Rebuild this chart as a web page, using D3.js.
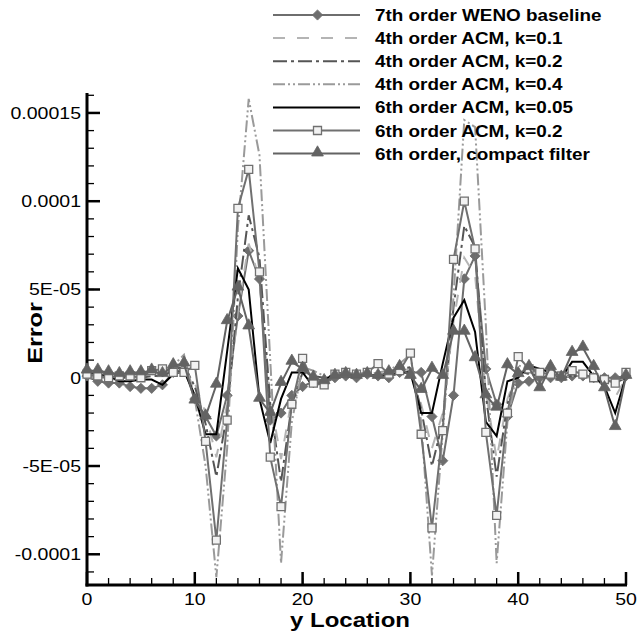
<!DOCTYPE html>
<html>
<head>
<meta charset="utf-8">
<script src="https://cdn.jsdelivr.net/npm/d3@7"></script>
<style>
body { margin: 0; background: #fff; }
text { font-family: "Liberation Sans", Arial, Helvetica, sans-serif; fill: #000; }
</style>
</head>
<body>
<svg id="chart" width="639" height="633"></svg>
<script>
// =====================
// DATA (error in 1E-05)
// =====================
var yLocation = [0, 1, 2, 3, 4, 5, 6, 7, 8, 9, 10, 11, 12, 13, 14, 15, 16, 17, 18, 19, 20,
    21, 22, 23, 24, 25, 26, 27, 28, 29, 30, 31, 32, 33, 34, 35, 36, 37, 38, 39, 40,
    41, 42, 43, 44, 45, 46, 47, 48, 49, 50];

var wenoBaseline = [0.1, -0.2, -0.3, -0.3, -0.5, -0.6, -0.6, -0.4, 0.3, 0.5,
    -1.2, -2.2, -3.3, -1.0, 3.5, 7.2, 5.6, -2.4, -2.0, -1.0,
    -0.5, -0.2, -0.3, 0.0, 0.1, 0.0, 0.2, 0.1, 0.0, 0.3,
    0.3, 0.3, -2.2, -4.7, -1.0, 5.6, 6.9, 0.5, -1.5, -2.2,
    -0.3, -0.2, 0.0, 0.0, 0.0, 0.1, 0.1, 0.0, 0.0, 0.0, 0.1];

var acm4k01 = [0.0, 0.0, 0.0, 0.1, 0.0, 0.0, 0.1, 0.2, 0.3, 0.6,
    -0.3, -2.0, -4.5, -1.5, 3.8, 7.6, 5.6, -1.2, -4.6, -1.2,
    0.3, 0.2, 0.0, 0.1, 0.1, 0.0, 0.1, 0.2, 0.2, 0.4,
    0.5, -1.5, -4.0, -2.0, 3.2, 6.8, 5.8, -0.8, -4.6, -1.2,
    0.4, 0.3, 0.2, 0.1, 0.0, 0.2, 0.1, 0.0, -0.3, -1.1, 0.0];

var acm4k02 = [0.0, -0.1, 0.0, 0.0, 0.0, 0.0, 0.1, 0.1, 0.4, 0.7,
    -0.5, -2.6, -5.6, -2.0, 4.6, 9.2, 6.8, -1.5, -5.9, -1.5,
    0.3, 0.1, 0.0, 0.0, 0.1, 0.0, 0.1, 0.1, 0.2, 0.5,
    0.6, -1.8, -5.0, -2.5, 4.0, 8.6, 7.4, -1.0, -5.6, -1.5,
    0.4, 0.2, 0.1, 0.0, 0.0, 0.1, 0.1, 0.0, -0.1, -0.3, 0.0];

var acm4k04 = [0.0, 0.0, 0.0, 0.0, 0.1, 0.1, 0.2, 0.3, 0.7, 1.3,
    -1.2, -5.0, -11.3, -4.0, 8.5, 15.8, 12.6, 1.0, -10.5, -2.5,
    0.6, 0.4, 0.1, 0.1, 0.1, 0.1, 0.2, 0.3, 0.4, 0.8,
    1.3, -2.5, -11.2, -3.1, 4.6, 14.6, 14.2, 3.0, -10.5, -2.5,
    0.7, 0.5, 0.2, 0.1, 0.0, 0.1, 0.1, 0.0, -0.1, -0.2, 0.0];

var acm6k005 = [0.3, 0.2, 0.1, -0.2, -0.2, -0.1, -0.1, -0.4, 0.2, 0.4,
    -1.0, -3.2, -3.2, 1.5, 6.2, 5.0, -1.2, -3.7, -1.2, 0.3,
    0.3, -0.5, -0.2, 0.3, 0.2, 0.1, 0.2, 0.1, 0.2, 0.3,
    0.3, -2.0, -2.0, 0.8, 3.4, 4.4, 2.6, -2.5, -3.3, -0.2,
    0.0, 0.7, 0.5, 0.3, 0.0, 0.9, 0.9, 0.1, -0.5, -2.0, 0.1];

var acm6k02 = [0.2, 0.1, 0.0, 0.1, 0.1, 0.0, 0.4, 0.5, 0.3, 0.3,
    0.7, -3.6, -9.2, -2.4, 9.6, 11.8, 6.0, -4.5, -7.3, -1.5,
    1.1, -0.3, -0.4, 0.2, 0.3, 0.2, 0.3, 0.8, 0.2, 0.4,
    1.4, -3.2, -8.5, -3.0, 6.7, 10.0, 7.3, -3.1, -7.8, -2.0,
    1.2, 0.5, 0.3, 0.2, 0.1, 0.4, 0.2, 0.0, -0.1, -0.3, 0.3];

var compactFilter = [0.4, 0.4, 0.3, 0.2, 0.3, 0.3, 0.4, 0.2, 0.7, 0.8,
    -1.3, -2.2, -0.4, 3.2, 5.1, 2.9, -1.2, -2.0, -0.3, 0.9,
    0.5, 0.0, -0.2, 0.1, 0.2, 0.1, 0.2, 0.1, 0.3, 0.6,
    0.1, -0.7, 0.5, 0.1, 2.6, 2.6, 1.1, -1.0, -1.7, 0.7,
    0.2, 0.6, -0.6, 0.6, 0.0, 1.4, 1.7, 0.6, -0.6, -2.8, 0.1];

var seriesNames = ["7th order WENO baseline", "4th order ACM, k=0.1", "4th order ACM, k=0.2",
    "4th order ACM, k=0.4", "6th order ACM, k=0.05", "6th order ACM, k=0.2", "6th order, compact filter"];

var xTickValues = [0, 10, 20, 30, 40, 50];
var xTickLabels = ["0", "10", "20", "30", "40", "50"];
var yTickValues = [-0.0001, -0.00005, 0, 0.00005, 0.0001, 0.00015];
var yTickLabels = ["-0.0001", "-5E-05", "0", "5E-05", "0.0001", "0.00015"];

// ===========
// STYLES
// ===========
var series = [
    {name: seriesNames[0], values: wenoBaseline, color: "#6e6e6e", dash: null, width: 2, marker: "diamond"},
    {name: seriesNames[1], values: acm4k01, color: "#b4b4b4", dash: "12,12", width: 2, marker: null},
    {name: seriesNames[2], values: acm4k02, color: "#555555", dash: "14,4,3,4", width: 2, marker: null},
    {name: seriesNames[3], values: acm4k04, color: "#9a9a9a", dash: "12,3,2,3,2,3", width: 2, marker: null},
    {name: seriesNames[4], values: acm6k005, color: "#000000", dash: null, width: 2, marker: null},
    {name: seriesNames[5], values: acm6k02, color: "#707070", dash: null, width: 2, marker: "square"},
    {name: seriesNames[6], values: compactFilter, color: "#636363", dash: null, width: 2, marker: "triangle"}
];

var svg = d3.select("#chart");

var plotLeft = 87, plotRight = 626, plotTop = 93, plotBottom = 585;

var x = d3.scaleLinear().domain([0, 50]).range([plotLeft, plotRight]);
var y = d3.scaleLinear().domain([-0.0001174, 0.0001613]).range([plotBottom, plotTop]);

// ####################################
// # text drawn wider like the original
// ####################################
function wideText(parent, px, py, str, size, weight, anchor, stretch, rotate) {
    var g = parent.append("g")
        .attr("transform", "translate(" + px + "," + py + ")" + (rotate ? " rotate(" + rotate + ")" : ""));
    g.append("text")
        .attr("transform", "scale(" + stretch + ",1)")
        .attr("text-anchor", anchor)
        .attr("font-size", size)
        .attr("font-weight", weight)
        .text(str);
    return g;
}

// ########
// # AXES #
// ########
var axes = svg.append("g");

var yMinor = d3.range(-11, 17).map(function (d) { return d * 1e-5; });
var xMinor = d3.range(0, 51, 2);

axes.selectAll("line.yminor")
    .data(yMinor.filter(function (d) { return y(d) >= plotTop; }))
    .enter().append("line")
    .attr("x1", plotLeft).attr("x2", plotLeft + 7)
    .attr("y1", function (d) { return y(d); })
    .attr("y2", function (d) { return y(d); })
    .attr("stroke", "#000").attr("stroke-width", 1.3);

axes.selectAll("line.ymajor")
    .data(yTickValues)
    .enter().append("line")
    .attr("x1", plotLeft).attr("x2", plotLeft + 13)
    .attr("y1", function (d) { return y(d); })
    .attr("y2", function (d) { return y(d); })
    .attr("stroke", "#000").attr("stroke-width", 2.5);

axes.selectAll("line.xminor")
    .data(xMinor)
    .enter().append("line")
    .attr("x1", function (d) { return x(d); })
    .attr("x2", function (d) { return x(d); })
    .attr("y1", plotBottom).attr("y2", plotBottom - 7)
    .attr("stroke", "#000").attr("stroke-width", 1.3);

axes.selectAll("line.xmajor")
    .data(xTickValues)
    .enter().append("line")
    .attr("x1", function (d) { return x(d); })
    .attr("x2", function (d) { return x(d); })
    .attr("y1", plotBottom).attr("y2", plotBottom - 13)
    .attr("stroke", "#000").attr("stroke-width", 2.5);

axes.append("line")
    .attr("x1", plotLeft).attr("x2", plotLeft)
    .attr("y1", plotTop).attr("y2", plotBottom + 1.5)
    .attr("stroke", "#000").attr("stroke-width", 3);
axes.append("line")
    .attr("x1", plotLeft - 1.5).attr("x2", plotRight + 1)
    .attr("y1", plotBottom).attr("y2", plotBottom)
    .attr("stroke", "#000").attr("stroke-width", 3);

yTickValues.forEach(function (v, i) {
    wideText(axes, plotLeft - 6, y(v) + 6, yTickLabels[i], 16, "normal", "end", 1.22);
});
xTickValues.forEach(function (v, i) {
    wideText(axes, x(v), plotBottom + 20, xTickLabels[i], 16, "normal", "middle", 1.22);
});

wideText(axes, 42, 333, "Error", 21, "bold", "middle", 1.2, -90);
wideText(axes, 350, 627, "y Location", 20, "bold", "middle", 1.2);

// ###########
// # SERIES  #
// ###########
var line = d3.line()
    .x(function (d, i) { return x(yLocation[i]); })
    .y(function (d) { return y(d * 1e-5); });

function markerPath(kind) {
    if (kind === "diamond") return d3.symbol().type(d3.symbolSquare).size(52)();
    if (kind === "square") return d3.symbol().type(d3.symbolSquare).size(64)();
    if (kind === "triangle") return d3.symbol().type(d3.symbolTriangle).size(60)();
    return null;
}

function drawMarker(g, kind, color, px, py) {
    var p = g.append("path")
        .attr("d", markerPath(kind))
        .attr("stroke", color)
        .attr("stroke-width", kind === "square" ? 1.3 : 0.8)
        .attr("fill", kind === "square" ? "#f2f2f2" : color);
    if (kind === "diamond") p.attr("transform", "translate(" + px + "," + py + ") rotate(45)");
    else if (kind === "triangle") p.attr("transform", "translate(" + px + "," + (py - 1) + ")");
    else p.attr("transform", "translate(" + px + "," + py + ")");
}

var plot = svg.append("g");

series.forEach(function (s) {
    var g = plot.append("g");
    g.append("path")
        .datum(s.values)
        .attr("d", line)
        .attr("fill", "none")
        .attr("stroke", s.color)
        .attr("stroke-width", s.width)
        .attr("stroke-dasharray", s.dash)
        .attr("stroke-linejoin", "miter");
    if (s.marker) {
        s.values.forEach(function (v, i) {
            drawMarker(g, s.marker, s.color, x(yLocation[i]), y(v * 1e-5));
        });
    }
});

// ##########
// # LEGEND #
// ##########
var legend = svg.append("g");
series.forEach(function (s, i) {
    var cy = 15 + i * 23.1;
    legend.append("line")
        .attr("x1", 273).attr("x2", 360)
        .attr("y1", cy).attr("y2", cy)
        .attr("stroke", s.color)
        .attr("stroke-width", s.width)
        .attr("stroke-dasharray", s.dash);
    if (s.marker) drawMarker(legend, s.marker, s.color, 317.5, cy);
    wideText(legend, 375, cy + 6, s.name, 16, "bold", "start", 1.18);
});
</script>
</body>
</html>
